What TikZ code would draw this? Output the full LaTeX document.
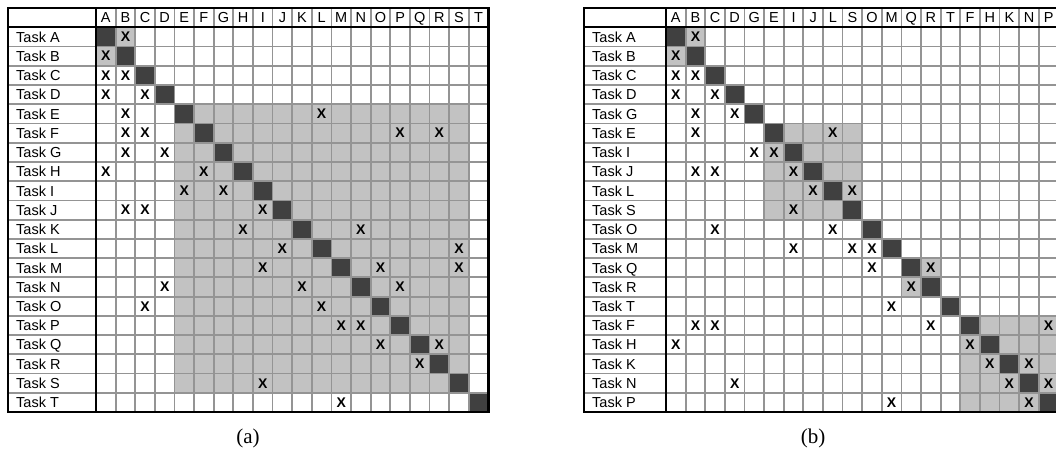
\documentclass[tikz,border=0pt]{standalone}
\usepackage{fontspec}
\setmainfont{Liberation Serif}
\setsansfont{Liberation Sans}

\def\DsmCellW{19.62}
\def\DsmCellH{19.24}
\def\DsmTop{8}
\def\DsmGridLW{1.8pt}
\def\DsmFrameLW{2.2pt}
\definecolor{dsmgrid}{gray}{0.58}
\definecolor{dsmblock}{gray}{0.76}
\definecolor{dsmdiag}{gray}{0.25}
\newcommand{\DsmStyles}{%
  \tikzset{
    dsmgridline/.style={draw=dsmgrid, line width=\DsmGridLW},
    dsmframe/.style={draw=black, line width=\DsmFrameLW},
    dsmblockcell/.style={fill=dsmblock},
    dsmdiagcell/.style={fill=dsmdiag},
    dsmlabel/.style={anchor=west, inner sep=0pt, text depth=0pt,
      font=\sffamily\fontsize{14.5}{15}\selectfont},
    dsmhead/.style={anchor=center, inner sep=0pt, text depth=0pt,
      font=\sffamily\fontsize{14.5}{15}\selectfont},
    dsmmark/.style={anchor=center, inner sep=0pt,
      font=\sffamily\bfseries\fontsize{14}{15}\selectfont},
    dsmcaption/.style={inner sep=0pt, font=\rmfamily\fontsize{21}{24}\selectfont},
  }%
}
% #1 prefix, #2 left x, #3 grid x, #4 task order, #5 blocks, #6 marks (row/col)
\newcommand{\DsmMatrix}[6]{%
  \foreach \bA/\bB in {#5}
    \fill[dsmblockcell] ({#3+\bA*\DsmCellW},{\DsmTop+\DsmCellH*(\bA+1)})
      rectangle ({#3+(\bB+1)*\DsmCellW},{\DsmTop+\DsmCellH*(\bB+2)});
  \foreach \n [count=\k from 0] in {#4} {
    \fill[dsmdiagcell] ({#3+\k*\DsmCellW},{\DsmTop+\DsmCellH*(\k+1)})
      rectangle ++(\DsmCellW,\DsmCellH);
    \node[dsmhead] (#1-h-\n) at ({#3+(\k+0.5)*\DsmCellW},{\DsmTop+0.5*\DsmCellH}) {\n};
    \node[dsmlabel] (#1-r-\n) at ({#2+8},{\DsmTop+\DsmCellH*(\k+1.5)}) {Task \n};
  }
  \foreach \r in {2,...,20}
    \draw[dsmgridline] (#2,{\DsmTop+\r*\DsmCellH}) -- ({#3+20*\DsmCellW},{\DsmTop+\r*\DsmCellH});
  \foreach \c in {1,...,19}
    \draw[dsmgridline] ({#3+\c*\DsmCellW},\DsmTop) -- ({#3+\c*\DsmCellW},{\DsmTop+21*\DsmCellH});
  \draw[dsmframe] (#2,{\DsmTop+\DsmCellH}) -- ({#3+20*\DsmCellW},{\DsmTop+\DsmCellH});
  \draw[dsmframe] (#3,\DsmTop) -- (#3,{\DsmTop+21*\DsmCellH});
  \draw[dsmframe] (#2,\DsmTop) rectangle ({#3+20*\DsmCellW},{\DsmTop+21*\DsmCellH});
  \foreach \r/\c in {#6}
    \node[dsmmark] (#1-x-\r-\c) at ({#3+(\c+0.5)*\DsmCellW},{\DsmTop+\DsmCellH*(\r+1.5)}) {X};
}

\begin{document}
\begin{tikzpicture}[x=1pt, y=-1pt]
  \DsmStyles
  \useasboundingbox (0,0) rectangle (1056,459);
  \clip (0,0) rectangle (1056,459);

  % (a) original order
  \DsmMatrix{a}{8}{96}{A,B,C,D,E,F,G,H,I,J,K,L,M,N,O,P,Q,R,S,T}{0/1,4/18}
    {0/1, 1/0, 2/0, 2/1, 3/0, 3/2, 4/1, 4/11, 5/1, 5/2, 5/15, 5/17,
     6/1, 6/3, 7/0, 7/5, 8/4, 8/6, 9/1, 9/2, 9/8, 10/7, 10/13,
     11/9, 11/18, 12/8, 12/14, 12/18, 13/3, 13/10, 13/15, 14/2, 14/11,
     15/12, 15/13, 16/14, 16/17, 17/16, 18/8, 19/12}

  % (b) partitioned order
  \DsmMatrix{b}{584}{666}{A,B,C,D,G,E,I,J,L,S,O,M,Q,R,T,F,H,K,N,P}{0/1,5/9,12/13,15/19}
    {0/1, 1/0, 2/0, 2/1, 3/0, 3/2, 4/1, 4/3, 5/1, 5/8, 6/5, 6/4,
     7/1, 7/2, 7/6, 8/7, 8/9, 9/6, 10/2, 10/8, 11/6, 11/10, 11/9,
     12/10, 12/13, 13/12, 14/11, 15/1, 15/2, 15/19, 15/13, 16/0, 16/15,
     17/16, 17/18, 18/3, 18/17, 18/19, 19/11, 19/18}

  \node[dsmcaption] (cap-a) at (248,438) {(a)};
  \node[dsmcaption] (cap-b) at (813,438) {(b)};
\end{tikzpicture}
\end{document}
